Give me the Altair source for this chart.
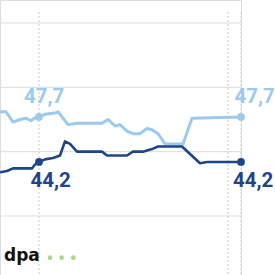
import altair as alt
import pandas as pd

# --- data ---
days_light = [0, 6, 13, 20, 26, 31, 34, 39, 45, 55, 58, 68, 77, 102, 108, 115, 120, 127, 133, 140, 147, 152, 158, 165, 183, 192, 241]
vals_light = [48.1, 48.1, 47.3, 47.5, 47.6, 47.4, 47.6, 47.7, 47.9, 48.0, 48.1, 47.1, 47.2, 47.2, 47.5, 47.0, 47.1, 46.6, 46.4, 46.4, 46.8, 46.7, 46.4, 45.6, 45.6, 47.6, 47.7]

days_dark = [0, 7, 13, 32, 35, 39, 45, 53, 60, 65, 70, 77, 102, 107, 127, 133, 143, 152, 158, 182, 200, 207, 241]
vals_dark = [43.4, 43.5, 43.7, 43.7, 44.0, 44.2, 44.4, 44.5, 44.7, 45.8, 45.6, 45.0, 45.0, 44.7, 44.7, 45.0, 45.0, 45.2, 45.4, 45.4, 44.1, 44.2, 44.2]

marker_days = [39, 228, 241]
grid_values = [40, 45, 50, 55]

LIGHT = "#9cc9ee"
DARK = "#1d4689"

df_light = pd.DataFrame({"day": days_light, "value": vals_light})
df_dark = pd.DataFrame({"day": days_dark, "value": vals_dark})
df_marks = pd.DataFrame({"day": marker_days})
df_grid = pd.DataFrame({"value": grid_values})

xs = alt.Scale(domain=[0, 241], nice=False, zero=False)
ys = alt.Scale(domain=[35.41, 56.79], nice=False, zero=False)

def X():
    return alt.X("day:Q", scale=xs, axis=None)

def Y():
    return alt.Y("value:Q", scale=ys, axis=None)

grid = alt.Chart(df_grid).mark_rule(color="#dcdcdc", strokeWidth=1).encode(
    y=Y(), x=alt.value(0), x2=alt.value(241))

vrules = alt.Chart(df_marks).mark_rule(color="#dadada", strokeDash=[2, 2], strokeWidth=1.5).encode(
    x=X(), y=alt.value(12), y2=alt.value(275))

line_light = alt.Chart(df_light).mark_line(color=LIGHT, strokeWidth=3, strokeJoin="round").encode(x=X(), y=Y())
line_dark = alt.Chart(df_dark).mark_line(color=DARK, strokeWidth=2.6, strokeJoin="round").encode(x=X(), y=Y())

label_days = [39, 241]
layers = [grid, vrules, line_light, line_dark]

def pts(df, color):
    d = df[df["day"].isin(label_days)]
    return alt.Chart(d).mark_circle(color=color, size=60, opacity=1).encode(x=X(), y=Y())

layers += [pts(df_light, LIGHT), pts(df_dark, DARK)]

label_specs = [
    (df_light, 39, LIGHT, -15, -13.5),
    (df_light, 241, LIGHT, -6.5, -13.5),
    (df_dark, 39, DARK, -8.5, 25),
    (df_dark, 241, DARK, -8, 25),
]
for df, day, color, dx, dy in label_specs:
    d = df[df["day"] == day].copy()
    d["txt"] = d["value"].map(lambda v: f"{v:.1f}".replace(".", ","))
    layers.append(
        alt.Chart(d).mark_text(color=color, font="Roboto", fontWeight="bold",
                               fontSize=20.5, align="left", baseline="alphabetic", dx=dx, dy=dy).encode(
            x=X(), y=Y(), text="txt:N"))

logo = alt.Chart(pd.DataFrame({"t": ["dpa"]})).mark_text(
    font="DejaVu Sans", fontWeight="bold", fontSize=17, color="#111111",
    align="left", baseline="alphabetic").encode(x=alt.value(4), y=alt.value(261), text="t:N")
layers.append(logo)
for px in (50, 61.7, 73.3):
    layers.append(alt.Chart(pd.DataFrame({"k": [1]})).mark_circle(color="#a6d98f", size=22, opacity=1).encode(
        x=alt.value(px), y=alt.value(257.7)))

chart = alt.layer(*layers).properties(
    width=241, height=275,
    autosize=alt.AutoSizeParams(type="none"),
    padding={"left": 0, "top": 0, "right": 34, "bottom": 0},
).configure_view(stroke=None).configure(background="white")

chart.save("out.html", embed_options={"renderer": "svg", "actions": False})
